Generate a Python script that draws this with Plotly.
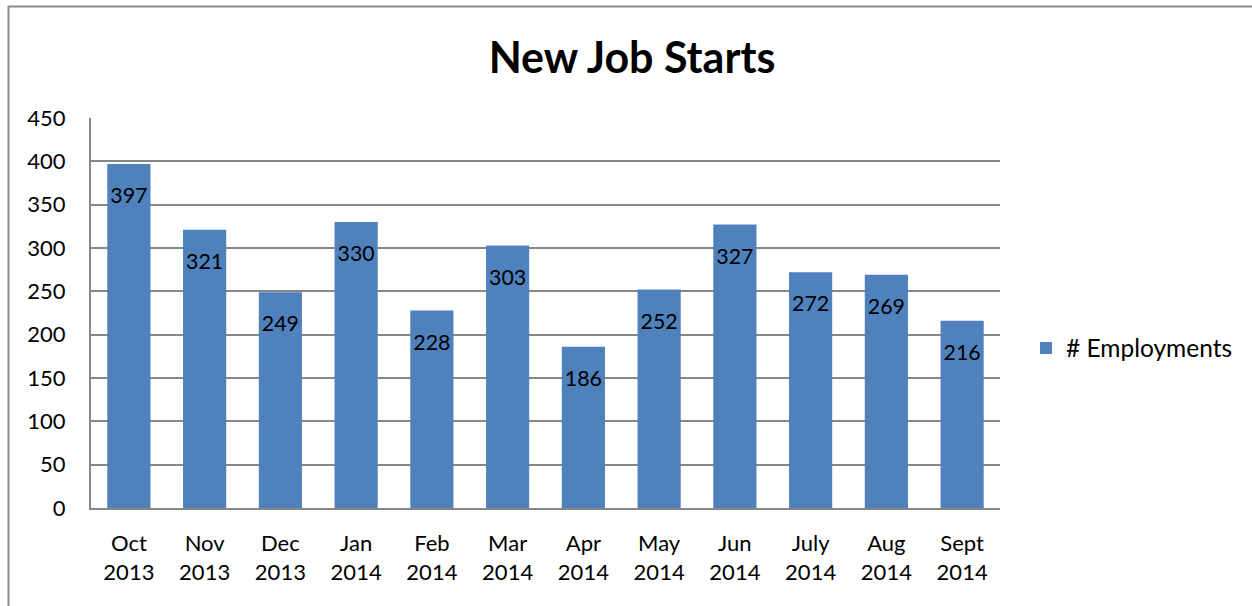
import plotly.graph_objects as go

months = ["Oct", "Nov", "Dec", "Jan", "Feb", "Mar", "Apr", "May", "Jun", "July", "Aug", "Sept"]
years = ["2013", "2013", "2013", "2014", "2014", "2014", "2014", "2014", "2014", "2014", "2014", "2014"]
employments = [397, 321, 249, 330, 228, 303, 186, 252, 327, 272, 269, 216]
y_ticks = [0, 50, 100, 150, 200, 250, 300, 350, 400, 450]

categories = [f"{m}<br>{y}" for m, y in zip(months, years)]

W, H = 1252, 606
L, R, T, B = 91, 1000, 118, 508

fig = go.Figure()
fig.add_trace(go.Bar(
    x=categories, y=employments, name="# Employments",
    marker=dict(color="#4F81BD", line=dict(width=0)),
    texttemplate="<span style='font-size:9px'> </span><br>%{y}", textposition="inside",
    insidetextanchor="end", textangle=0,
    textfont=dict(color="black", size=23, family="Lato"),
    cliponaxis=False,
))

def px(xp):
    return (xp - L) / (R - L)

def py(yp):
    return (B - yp) / (B - T)

fig.update_layout(
    width=W, height=H,
    margin=dict(l=L, r=W - R, t=T, b=H - B),
    paper_bgcolor="white", plot_bgcolor="white",
    font=dict(family="Lato", size=22, color="black"),
    title=dict(text="<b>New Job Starts</b>", x=632 / W, xanchor="center",
               y=1 - 58 / H, yanchor="middle",
               font=dict(size=43, family="Lato", color="black")),
    bargap=0.43,
    showlegend=True,
    legend=dict(x=px(1026), y=py(348), xanchor="left", yanchor="middle",
                font=dict(size=24.5), bgcolor="rgba(0,0,0,0)",
                itemwidth=30),
    uniformtext=dict(mode=False),
    shapes=[
        dict(type="line", xref="paper", yref="paper", x0=px(8), x1=px(1260), y0=py(6.5), y1=py(6.5),
             line=dict(color="#8C8C8C", width=2)),
        dict(type="line", xref="paper", yref="paper", x0=px(8.5), x1=px(8.5), y0=py(6), y1=py(620),
             line=dict(color="#8C8C8C", width=2)),
    ],
)
fig.update_xaxes(showgrid=False, showline=True, linecolor="#878787", linewidth=2,
                 ticks="", tickfont=dict(size=22), ticklabelstandoff=15)
fig.update_yaxes(range=[0, 450], tickvals=y_ticks, showgrid=True, gridcolor="#878787", gridwidth=1.5,
                 showline=True, linecolor="#878787", linewidth=2, ticks="",
                 tickfont=dict(size=22), zeroline=False, ticklabelstandoff=19)

fig.write_html("out.html", config={"displayModeBar": False},
               post_script="document.body.style.margin='0px';")
